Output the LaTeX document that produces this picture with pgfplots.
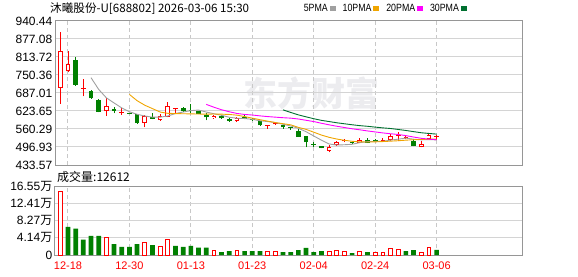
\documentclass[border=0pt]{standalone}
\usepackage{pgfplots}
\pgfplotsset{compat=1.18}
\usepackage{pgfplotstable}
\usepackage{fontspec}
\setmainfont{Liberation Sans}
\newfontfamily\cjk{Noto Sans CJK SC}
\newfontfamily\narrow{Liberation Sans}[FakeStretch=0.84]

\definecolor{cRed}{RGB}{255,0,0}
\definecolor{cGreen}{RGB}{0,128,0}
\definecolor{ma5}{RGB}{160,160,160}
\definecolor{ma10}{RGB}{240,165,0}
\definecolor{ma20}{RGB}{255,0,255}
\definecolor{ma30}{RGB}{0,112,48}
\definecolor{frameC}{RGB}{150,150,150}
\definecolor{hgrid}{RGB}{212,212,212}
\definecolor{vgrid}{RGB}{200,200,200}
\definecolor{wm}{RGB}{236,236,239}

% red candles: index, low, open, close, high
\pgfplotstableread{
i lo bot top hi
0 649.4 704.6 833.7 900.6
1 759.7 763.3 789.1 833.7
3 675.3 703.0 706.0 736.3
6 607.2 623.6 641.2 668.2
8 610.7 615.8 617.0 634.2
11 566.0 581.4 606.0 610.7
13 589.6 591.5 605.5 613.1
14 601.3 602.5 640.0 656.0
15 616.6 630.0 632.0 633.0
20 596.0 597.8 606.0 609.0
23 585.0 588.4 597.8 603.0
27 560.3 572.0 573.5 575.4
28 575.0 576.6 580.0 582.0
35 478.0 482.9 495.6 502.7
36 501.0 502.7 513.3 519.0
37 514.0 517.0 518.5 524.0
39 510.0 510.9 521.4 527.0
42 517.0 518.0 519.5 528.0
43 519.0 520.3 534.4 542.7
44 517.0 536.0 538.0 549.0
45 524.0 529.5 530.5 534.0
47 496.0 496.6 508.4 518.0
48 525.0 525.3 538.0 543.8
49 522.6 532.5 533.5 540.0
}\redC

% green candles: index, low, close, open, high
\pgfplotstableread{
i lo bot top hi
2 712.8 716.3 801.5 812.6
4 667.0 668.2 695.2 697.6
5 619.0 621.3 661.2 667.0
7 615.4 624.8 630.7 637.7
9 612.0 614.0 616.0 618.0
10 579.0 581.4 611.9 614.0
12 594.0 595.5 602.5 616.6
16 620.0 622.5 634.0 636.0
17 616.6 624.0 626.0 648.0
18 612.0 614.2 622.4 624.0
19 590.7 601.3 610.7 616.6
21 596.0 597.8 606.0 608.0
22 585.0 588.4 596.6 600.0
24 594.0 595.5 602.5 612.0
25 590.0 592.0 595.5 598.0
26 572.0 573.0 588.4 589.0
29 561.4 566.0 573.0 578.0
30 558.0 562.5 566.0 568.0
31 532.1 532.1 552.0 560.3
32 495.6 513.3 534.4 536.7
33 497.0 505.0 506.0 513.0
34 492.0 492.0 501.6 502.0
38 508.0 513.0 514.0 518.0
40 511.0 512.0 520.0 527.0
41 513.0 518.5 520.0 524.0
46 499.0 499.5 519.0 526.0
}\greenC

\pgfplotstableread{
i v
4 741.0
5 699.5
6 670.0
7 652.0
8 634.5
9 621.0
10 612.0
11 606.0
12 602.0
13 602.0
14 606.0
15 615.0
16 620.0
17 625.0
18 627.0
19 620.0
20 614.0
21 608.7
22 601.5
23 598.3
24 597.1
25 594.3
26 589.3
27 586.4
28 582.8
29 576.9
30 571.0
31 562.8
32 550.8
33 535.8
34 521.0
35 507.6
36 503.8
37 504.9
38 506.5
39 512.4
40 515.6
41 516.7
42 516.9
43 521.2
44 524.5
45 528.2
46 524.4
47 522.2
48 522.9
49 522.0
}\maFive

\pgfplotstableread{
i v
9 682.0
10 660.0
11 644.0
12 632.0
13 620.0
14 615.5
15 614.5
16 614.0
17 613.5
18 613.0
19 612.5
20 613.0
21 612.5
22 611.5
23 609.0
24 604.0
25 598.5
26 593.0
27 588.0
28 583.0
29 579.0
30 575.0
31 566.0
32 559.0
33 549.0
34 539.0
35 531.0
36 525.0
37 520.5
38 517.0
39 515.0
40 514.5
41 515.0
42 516.0
43 517.5
44 519.0
45 521.0
46 522.5
47 523.5
48 524.5
49 525.0
}\maTen

\pgfplotstableread{
i v
19 647.0
20 637.0
21 628.0
22 621.0
23 615.0
24 611.5
25 609.5
26 606.5
27 604.0
28 602.0
29 600.0
30 598.5
31 595.5
32 591.0
33 586.5
34 580.5
35 575.0
36 570.0
37 565.5
38 561.0
39 557.5
40 553.5
41 550.0
42 546.5
43 543.5
44 541.0
45 537.0
46 532.0
47 527.5
48 524.5
49 522.5
}\maTwenty

\pgfplotstableread{
i v
29 627.6
30 618.6
31 610.0
32 603.2
33 596.5
34 590.7
35 586.5
36 582.2
37 578.7
38 575.2
39 572.1
40 569.8
41 566.9
42 564.3
43 562.0
44 558.6
45 555.1
46 551.0
47 547.1
48 544.6
49 542.3
}\maThirty

\pgfplotstableread{
i v
0 154000
6 43000
11 30500
13 21000
14 38000
20 11000
23 11000
27 8800
28 8800
35 8800
36 11000
37 8800
39 8800
41 6400
42 6400
43 16000
44 13700
47 6400
48 18500
}\redV

\pgfplotstableread{
i v
1 68000
2 63500
3 37000
4 46000
5 46000
7 26500
8 19300
9 19300
10 26500
12 24000
15 21700
16 19300
17 21700
18 17700
19 17700
21 7200
22 9600
24 9600
25 9600
26 9600
29 7200
30 7200
31 12000
32 17000
33 7200
34 9600
38 4800
40 7200
45 9600
46 12000
49 12612
}\greenV

\pgfplotsset{
  kpanel/.style={
    scale only axis, width=467pt,
    xmin=-0.69, xmax=60.12,
    xtick={1,9,17,25,33,41,49},
    xmajorgrids, ymajorgrids,
    major x grid style={vgrid, dash pattern=on 4pt off 3pt, line width=1pt},
    major y grid style={hgrid, line width=1pt},
    axis line style={frameC, line width=1pt},
    major tick length=0pt,
    scaled ticks=false,
    tick label style={font=\fontsize{12}{12}\selectfont, text=black},
    yticklabel style={inner sep=0pt, xshift=-2.5pt},
    clip=true,
  },
  candle/.style={draw=none, forget plot, error bars/.cd, y dir=plus, y explicit, error mark=none},
}

\begin{document}
\begin{tikzpicture}
\useasboundingbox (0pt,0pt) rectangle (578pt,276pt);
\node[text=wm, font=\cjk\bfseries\fontsize{34}{34}\selectfont, inner sep=0pt] at (311pt,183pt) {东方财富};
\node[anchor=west, inner sep=0pt, font=\cjk\fontsize{11.6}{11.6}\selectfont] at (50pt,267.5pt) {沐曦股份-U[688802] 2026-03-06 15:30};
\node[anchor=west, inner sep=0pt, font=\cjk\fontsize{12}{12}\selectfont] at (57pt,98.7pt) {成交量:12612};

\begin{axis}[kpanel,
  at={(55pt,111pt)}, anchor=south west, height=144pt,
  ymin=433.57, ymax=940.44,
  xticklabels={},
  ytick={433.57,496.93,560.29,623.65,687.01,750.36,813.72,877.08,940.44},
  yticklabels={433.57,496.93,560.29,623.65,687.01,750.36,813.72,877.08,940.44},
  legend columns=4, legend plot pos=right,
  legend image code/.code={\fill[#1] (0pt,-1.8pt) rectangle (5pt,1.8pt);},
  legend style={at={(axis description cs:0.531,1.087)}, anchor=west, draw=none, fill=none,
    font=\narrow\fontsize{10.5}{10.5}\selectfont, inner sep=0pt,
    nodes={inner sep=0.6pt},
    /tikz/every odd column/.append style={column sep=1.2pt},
    /tikz/every even column/.append style={column sep=6.5pt}},
]
% wicks
\addplot[candle, error bar style={draw=cGreen, line width=0.9pt}] table[x=i, y=lo, y error expr=\thisrow{hi}-\thisrow{lo}] {\greenC};
\addplot[candle, error bar style={draw=cRed, line width=0.9pt}] table[x=i, y=lo, y error expr=\thisrow{hi}-\thisrow{lo}] {\redC};
% bodies
\addplot[candle, error bar style={draw=cGreen, line width=4.7pt}] table[x=i, y=bot, y error expr={max(\thisrow{top}-\thisrow{bot},3)}] {\greenC};
\addplot[candle, error bar style={draw=cRed, line width=4.7pt}] table[x=i, y=bot, y error expr={max(\thisrow{top}-\thisrow{bot},3)}] {\redC};
\addplot[candle, error bar style={draw=white, line width=2.9pt}] table[x=i, y expr=\thisrow{bot}+3.2, y error expr={max(\thisrow{top}-\thisrow{bot}-6.4,0)}] {\redC};
% moving averages
\addplot[color=ma5, line width=0.9pt] table[x=i, y=v] {\maFive};
\addlegendentry{5PMA}
\addplot[color=ma10, line width=0.9pt] table[x=i, y=v] {\maTen};
\addlegendentry{10PMA}
\addplot[color=ma20, line width=0.9pt] table[x=i, y=v] {\maTwenty};
\addlegendentry{20PMA}
\addplot[color=ma30, line width=0.9pt] table[x=i, y=v] {\maThirty};
\addlegendentry{30PMA}
\end{axis}

\begin{axis}[kpanel,
  at={(55pt,21pt)}, anchor=south west, height=68.7pt,
  ymin=0, ymax=165500,
  xticklabels={12-18,12-30,01-13,01-23,02-04,02-24,03-06},
  xticklabel style={text=cRed, font=\fontsize{11}{11}\selectfont, inner sep=0pt, yshift=-7pt},
  ytick={0,41375,82750,124125,165500},
  yticklabels={0,4.14{\cjk 万},8.27{\cjk 万},12.41{\cjk 万},16.55{\cjk 万}},
]
\addplot[ybar, bar width=3.8pt, bar shift=0pt, draw=cRed, fill=white, line width=0.9pt] table[x=i, y=v] {\redV};
\addplot[ybar, bar width=4.7pt, bar shift=0pt, draw=none, fill=cGreen] table[x=i, y=v] {\greenV};
\end{axis}
\end{tikzpicture}
\end{document}
